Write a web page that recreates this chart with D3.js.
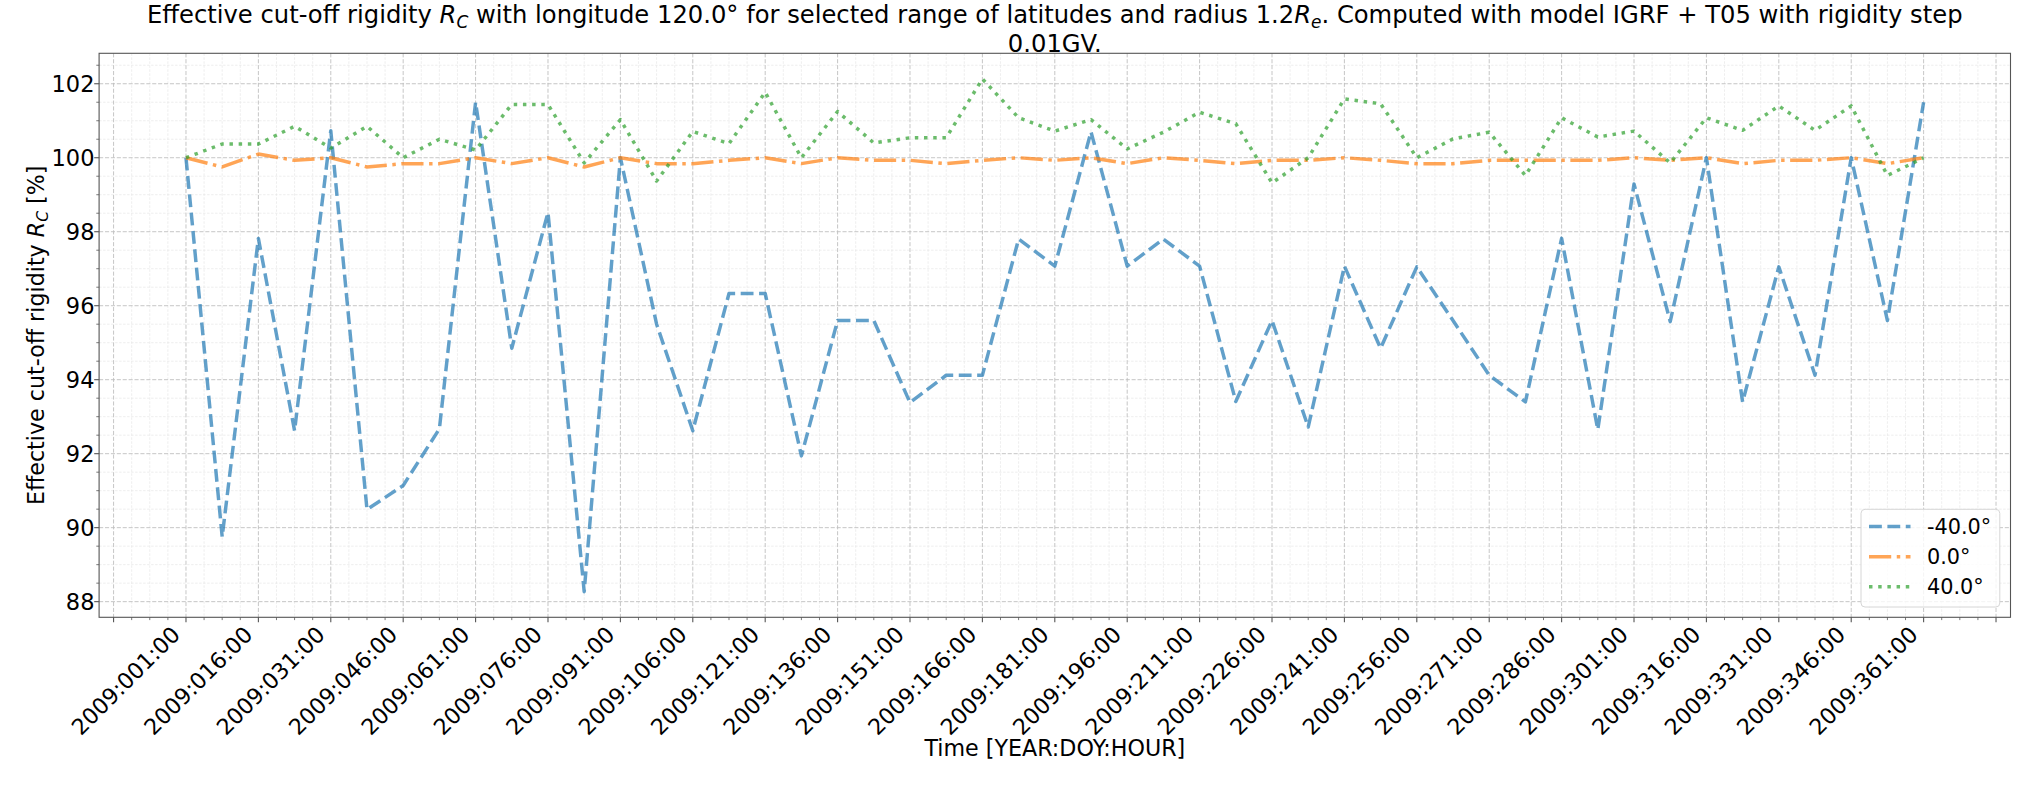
<!DOCTYPE html>
<html><head><meta charset="utf-8">
<script src="https://cdn.jsdelivr.net/npm/d3@7"></script>
<style>
body{margin:0;background:#fff}
svg{display:block}
text{font-family:"DejaVu Sans",sans-serif;fill:#000}
</style>
</head><body>
<svg id="chart" width="2040" height="785"></svg>
<script>
// ---------- data ----------
const times = [
 "2009:001:00","2009:008:12","2009:016:00","2009:023:12","2009:031:00","2009:038:12","2009:046:00",
 "2009:053:12","2009:061:00","2009:068:12","2009:076:00","2009:083:12","2009:091:00","2009:098:12",
 "2009:106:00","2009:113:12","2009:121:00","2009:128:12","2009:136:00","2009:143:12","2009:151:00",
 "2009:158:12","2009:166:00","2009:173:12","2009:181:00","2009:188:12","2009:196:00","2009:203:12",
 "2009:211:00","2009:218:12","2009:226:00","2009:233:12","2009:241:00","2009:248:12","2009:256:00",
 "2009:263:12","2009:271:00","2009:278:12","2009:286:00","2009:293:12","2009:301:00","2009:308:12",
 "2009:316:00","2009:323:12","2009:331:00","2009:338:12","2009:346:00","2009:353:12","2009:361:00"
];
const seriesNames = ["-40.0°", "0.0°", "40.0°"];
const latMinus40 = [
 100.00, 89.75, 97.82, 92.62, 100.73, 90.49, 91.14, 92.67, 101.50, 94.85,
 98.52, 88.27, 100.00, 95.50, 92.62, 96.33, 96.33, 91.94, 95.60, 95.60,
 93.38, 94.12, 94.12, 97.80, 97.07, 100.70, 97.07, 97.80, 97.07, 93.41,
 95.60, 92.72, 97.07, 94.85, 97.05, 95.60, 94.12, 93.40, 97.82, 92.65,
 99.29, 95.57, 100.00, 93.40, 97.05, 94.12, 100.00, 95.60, 101.50
];
const lat0 = [
 100.00, 99.75, 100.10, 99.93, 100.00, 99.75, 99.84, 99.84, 100.00, 99.84,
 100.00, 99.75, 100.00, 99.84, 99.84, 99.93, 100.00, 99.84, 100.00, 99.93,
 99.93, 99.84, 99.93, 100.00, 99.93, 100.00, 99.84, 100.00, 99.93, 99.84,
 99.93, 99.93, 100.00, 99.93, 99.84, 99.84, 99.93, 99.93, 99.93, 99.93,
 100.00, 99.93, 100.00, 99.84, 99.93, 99.93, 100.00, 99.84, 100.00
];
const lat40 = [
 100.00, 100.37, 100.37, 100.85, 100.26, 100.85, 100.00, 100.50, 100.21, 101.44,
 101.44, 99.86, 101.03, 99.37, 100.71, 100.38, 101.77, 100.00, 101.25, 100.40,
 100.54, 100.54, 102.13, 101.08, 100.72, 101.03, 100.24, 100.69, 101.23, 100.92,
 99.32, 100.00, 101.59, 101.46, 100.00, 100.51, 100.69, 99.52, 101.08, 100.56,
 100.72, 99.86, 101.08, 100.74, 101.40, 100.74, 101.40, 99.52, 100.00
];
const yTickValues = [88, 90, 92, 94, 96, 98, 100, 102];
const colors = ["#1f77b4", "#ff7f0e", "#2ca02c"];
const LW = 3.47;
const dashes = [
  [3.7 * LW, 1.6 * LW].join(","),
  [6.4 * LW, 1.6 * LW, 1 * LW, 1.6 * LW].join(","),
  [1 * LW, 1.65 * LW].join(",")
];

// ---------- layout ----------
const svg = d3.select("#chart");
const L = 99.1, R = 2010.5, T = 53.3, B = 617.3;
const n = times.length;
const pad = (n - 1) * 0.05;
const x = d3.scaleLinear().domain([-pad, n - 1 + pad]).range([L, R]);
const allVals = latMinus40.concat(lat0, lat40);
const ymin = d3.min(allVals), ymax = d3.max(allVals), yr = (ymax - ymin) * 0.05;
const y = d3.scaleLinear().domain([ymin - yr, ymax + yr]).range([B, T]);

const xMajor = d3.range(-2, n + 2, 2);
const xMinor = d3.range(-2, n + 2, 0.5).filter(v => v % 2 !== 0 && x(v) >= L && x(v) <= R);
const yMinor = d3.range(87.5, 103.01, 0.5).filter(v => v % 2 !== 0 && y(v) >= T && y(v) <= B);

// grid
const g = svg.append("g");
g.selectAll(".mgx").data(xMinor).join("line")
  .attr("x1", d => x(d)).attr("x2", d => x(d)).attr("y1", T).attr("y2", B)
  .attr("stroke", "#e6e6e6").attr("stroke-width", 0.7).attr("stroke-dasharray", "2.5,1.5");
g.selectAll(".mgy").data(yMinor).join("line")
  .attr("y1", d => y(d)).attr("y2", d => y(d)).attr("x1", L).attr("x2", R)
  .attr("stroke", "#e6e6e6").attr("stroke-width", 0.7).attr("stroke-dasharray", "2.5,1.5");
g.selectAll(".Mgx").data(xMajor.filter(v => x(v) >= L && x(v) <= R)).join("line")
  .attr("x1", d => x(d)).attr("x2", d => x(d)).attr("y1", T).attr("y2", B)
  .attr("stroke", "#c0c0c0").attr("stroke-width", 0.9).attr("stroke-dasharray", "4.1,1.8");
g.selectAll(".Mgy").data(yTickValues).join("line")
  .attr("y1", d => y(d)).attr("y2", d => y(d)).attr("x1", L).attr("x2", R)
  .attr("stroke", "#c0c0c0").attr("stroke-width", 0.9).attr("stroke-dasharray", "4.1,1.8");

// lines
const series = [latMinus40, lat0, lat40];
const line = d3.line().x((d, i) => x(i)).y(d => y(d));
const plot = svg.append("g");
series.forEach((s, k) => {
  plot.append("path").datum(s).attr("d", line)
    .attr("fill", "none").attr("stroke", colors[k]).attr("stroke-opacity", 0.7)
    .attr("stroke-width", LW).attr("stroke-dasharray", dashes[k])
    .attr("stroke-linejoin", "round");
});

// spines
svg.append("rect").attr("x", L).attr("y", T).attr("width", R - L).attr("height", B - T)
  .attr("fill", "none").attr("stroke", "#555").attr("stroke-width", 1.1);

// x ticks
const ax = svg.append("g");
ax.selectAll(".xt").data(xMajor).join("line")
  .attr("x1", d => x(d)).attr("x2", d => x(d)).attr("y1", B).attr("y2", B + 4.9)
  .attr("stroke", "#555").attr("stroke-width", 1.1);
ax.selectAll(".xmt").data(xMinor).join("line")
  .attr("x1", d => x(d)).attr("x2", d => x(d)).attr("y1", B).attr("y2", B + 2.8)
  .attr("stroke", "#555").attr("stroke-width", 0.8);
ax.selectAll(".xl").data(xMajor.filter(v => v >= 0 && v < n)).join("text")
  .attr("transform", d => `translate(${x(d) - 4.5},636) rotate(-45)`)
  .attr("text-anchor", "end").attr("font-size", 22.2)
  .text(d => times[d]);

// y ticks
ax.selectAll(".yt").data(yTickValues).join("line")
  .attr("x1", L - 4.9).attr("x2", L).attr("y1", d => y(d)).attr("y2", d => y(d))
  .attr("stroke", "#555").attr("stroke-width", 1.1);
ax.selectAll(".ymt").data(yMinor).join("line")
  .attr("x1", L - 2.8).attr("x2", L).attr("y1", d => y(d)).attr("y2", d => y(d))
  .attr("stroke", "#555").attr("stroke-width", 0.8);
ax.selectAll(".yl").data(yTickValues).join("text")
  .attr("x", 94.5).attr("y", d => y(d)).attr("dy", "0.36em")
  .attr("text-anchor", "end").attr("font-size", 22.5)
  .text(d => d);

// axis labels
svg.append("text").attr("x", (L + R) / 2).attr("y", 756).attr("text-anchor", "middle")
  .attr("font-size", 22.2).text("Time [YEAR:DOY:HOUR]");

const yl = svg.append("text").attr("transform", `translate(43.5,${(T + B) / 2}) rotate(-90)`)
  .attr("text-anchor", "middle").attr("font-size", 22.2);
yl.append("tspan").text("Effective cut-off rigidity ");
yl.append("tspan").attr("font-style", "italic").text("R");
yl.append("tspan").attr("font-style", "italic").attr("font-size", 15.5).attr("dy", 4).text("C");
yl.append("tspan").attr("dy", -4).text(" [%]");

// title
function buildTitle(fs) {
  svg.selectAll(".title").remove();
  const sub = fs * 0.7, sh = fs * 0.2;
  const t1 = svg.append("text").attr("class", "title").attr("x", (L + R) / 2).attr("y", 23)
    .attr("text-anchor", "middle").attr("font-size", fs);
  t1.append("tspan").text("Effective cut-off rigidity ");
  t1.append("tspan").attr("font-style", "italic").text("R");
  t1.append("tspan").attr("font-style", "italic").attr("font-size", sub).attr("dy", sh).text("C");
  t1.append("tspan").attr("dy", -sh).text(" with longitude 120.0° for selected range of latitudes and radius 1.2");
  t1.append("tspan").attr("font-style", "italic").text("R");
  t1.append("tspan").attr("font-style", "italic").attr("font-size", sub).attr("dy", sh).text("e");
  t1.append("tspan").attr("dy", -sh).text(". Computed with model IGRF + T05 with rigidity step");
  svg.append("text").attr("class", "title").attr("x", (L + R) / 2).attr("y", 52)
    .attr("text-anchor", "middle").attr("font-size", fs).text("0.01GV.");
  return t1;
}
let fs = 24;
const tw = buildTitle(fs).node().getComputedTextLength();
if (tw > 0) { fs = Math.max(20, Math.min(28, fs * 1816 / tw)); buildTitle(fs); }

// legend
const lg = svg.append("g");
lg.append("rect").attr("x", 1861).attr("y", 509.3).attr("width", 138.8).attr("height", 97.7)
  .attr("rx", 4).attr("fill", "#fff").attr("fill-opacity", 0.8)
  .attr("stroke", "#d6d6d6").attr("stroke-width", 1);
const rowsY = [526.5, 556.7, 586.8];
seriesNames.forEach((name, k) => {
  lg.append("line").attr("x1", 1869).attr("x2", 1910.5).attr("y1", rowsY[k]).attr("y2", rowsY[k])
    .attr("stroke", colors[k]).attr("stroke-opacity", 0.7).attr("stroke-width", LW)
    .attr("stroke-dasharray", dashes[k]);
  lg.append("text").attr("x", 1927).attr("y", rowsY[k]).attr("dy", "0.36em")
    .attr("font-size", 20.8).text(name);
});
</script>
</body></html>
